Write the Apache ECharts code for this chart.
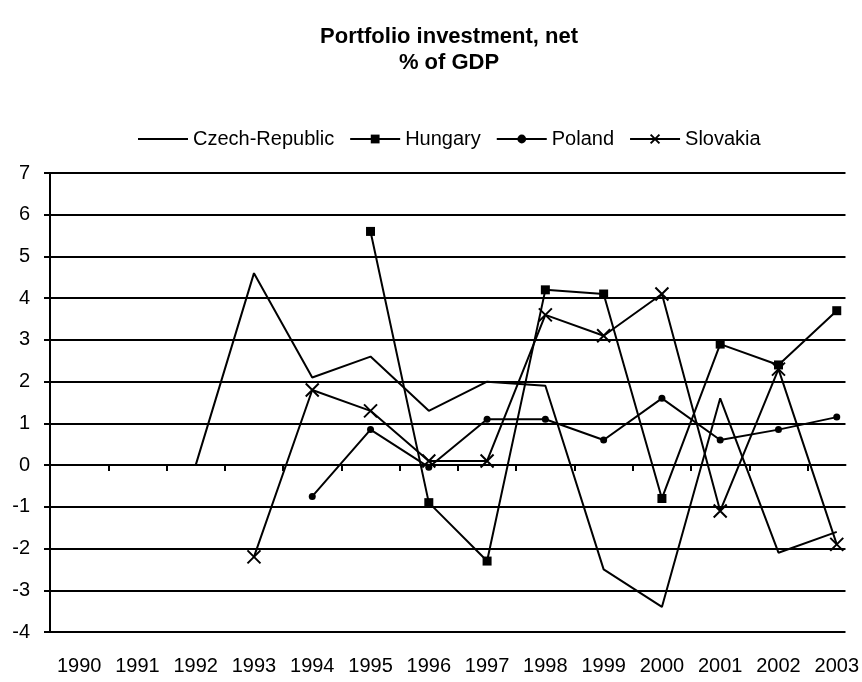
<!DOCTYPE html>
<html>
<head>
<meta charset="utf-8">
<script src="https://cdn.jsdelivr.net/npm/echarts@6/dist/echarts.min.js"></script>
<style>
html,body{margin:0;padding:0;background:#fff;}
#chart{width:862px;height:682px;}
</style>
</head>
<body>
<div id="chart"></div>
<script>
var years = ['1990','1991','1992','1993','1994','1995','1996','1997','1998','1999','2000','2001','2002','2003'];
var czech    = [null, null, 0.0, 4.6, 2.1, 2.6, 1.3, 2.0, 1.9, -2.5, -3.4, 1.6, -2.1, -1.6];
var hungary  = [null, null, null, null, null, 5.6, -0.9, -2.3, 4.2, 4.1, -0.8, 2.9, 2.4, 3.7];
var poland   = [null, null, null, null, -0.75, 0.85, -0.05, 1.1, 1.1, 0.6, 1.6, 0.6, 0.85, 1.15];
var slovakia = [null, null, null, -2.2, 1.8, 1.3, 0.1, 0.1, 3.6, 3.1, 4.1, -1.1, 2.3, -1.9];
var yTicks = [-4, -3, -2, -1, 0, 1, 2, 3, 4, 5, 6, 7];

var FONT = "'Liberation Sans', Arial, sans-serif";

function pairs(arr) {
  var out = [];
  for (var i = 0; i < arr.length; i++) {
    if (arr[i] !== null) out.push([i + 0.5, arr[i]]);
  }
  return out;
}
var centers = years.map(function (y, i) { return i + 0.5; });
var bounds = years.slice(1).map(function (y, i) { return i + 1; });

var chart = echarts.init(document.getElementById('chart'), null, {renderer: 'canvas'});
var xMax = 13.65;

chart.setOption({
  backgroundColor: '#fff',
  animation: false,
  graphic: [
    {type: 'text', x: 449, y: 37, style: {text: 'Portfolio investment, net', font: 'bold 22px ' + FONT, fill: '#000', textAlign: 'center', textVerticalAlign: 'middle'}},
    {type: 'text', x: 449, y: 63, style: {text: '% of GDP', font: 'bold 22px ' + FONT, fill: '#000', textAlign: 'center', textVerticalAlign: 'middle'}}
  ],
  legend: {
    left: 132,
    top: 124,
    itemWidth: 50,
    itemHeight: 11,
    itemGap: 15,
    textStyle: {fontSize: 20, color: '#000', fontFamily: FONT},
    data: [
      {name: 'Czech-Republic', itemStyle: {opacity: 0, color: 'rgba(0,0,0,0)', borderWidth: 0}},
      'Hungary', 'Poland', 'Slovakia'
    ]
  },
  grid: {left: 50, right: 16, top: 173, bottom: 50, containLabel: false},
  xAxis: [
    {
      type: 'value', min: 0, max: xMax, position: 'bottom',
      axisLine: {show: false, onZero: false},
      axisTick: {show: false},
      splitLine: {show: false},
      axisLabel: {
        customValues: centers,
        margin: 24,
        fontSize: 20, color: '#000', fontFamily: FONT,
        formatter: function (v) { return years[Math.round(v - 0.5)]; }
      }
    },
    {
      type: 'value', min: 0, max: xMax, position: 'bottom',
      axisLine: {show: true, onZero: true, lineStyle: {color: '#000', width: 2}},
      axisTick: {show: true, customValues: bounds, inside: false, length: 6, lineStyle: {color: '#000', width: 2}},
      splitLine: {show: false},
      axisLabel: {show: false}
    }
  ],
  yAxis: {
    type: 'value', min: -4, max: 7, interval: 1,
    axisLine: {show: true, lineStyle: {color: '#000', width: 2}},
    axisTick: {show: true, length: 6, lineStyle: {color: '#000', width: 2}},
    splitLine: {show: true, lineStyle: {color: '#000', width: 2}},
    axisLabel: {margin: 20, fontSize: 20, color: '#000', fontFamily: FONT,
      formatter: function (v) { return yTicks.indexOf(v) >= 0 ? String(v) : ''; }}
  },
  series: [
    {name: 'Czech-Republic', type: 'line', xAxisIndex: 0, data: pairs(czech), symbol: 'none',
     lineStyle: {color: '#000', width: 2}, itemStyle: {color: '#000'}},
    {name: 'Hungary', type: 'line', xAxisIndex: 0, data: pairs(hungary), symbol: 'rect', symbolSize: 9,
     lineStyle: {color: '#000', width: 2}, itemStyle: {color: '#000'}},
    {name: 'Poland', type: 'line', xAxisIndex: 0, data: pairs(poland), symbol: 'circle', symbolSize: 7,
     lineStyle: {color: '#000', width: 2}, itemStyle: {color: '#000'}},
    {name: 'Slovakia', type: 'line', xAxisIndex: 0, data: pairs(slovakia), symbol: 'path://M0,0L10,10M10,0L0,10', symbolSize: 13,
     lineStyle: {color: '#000', width: 2}, itemStyle: {color: '#000', borderColor: '#000', borderWidth: 2}}
  ]
});
</script>
</body>
</html>
